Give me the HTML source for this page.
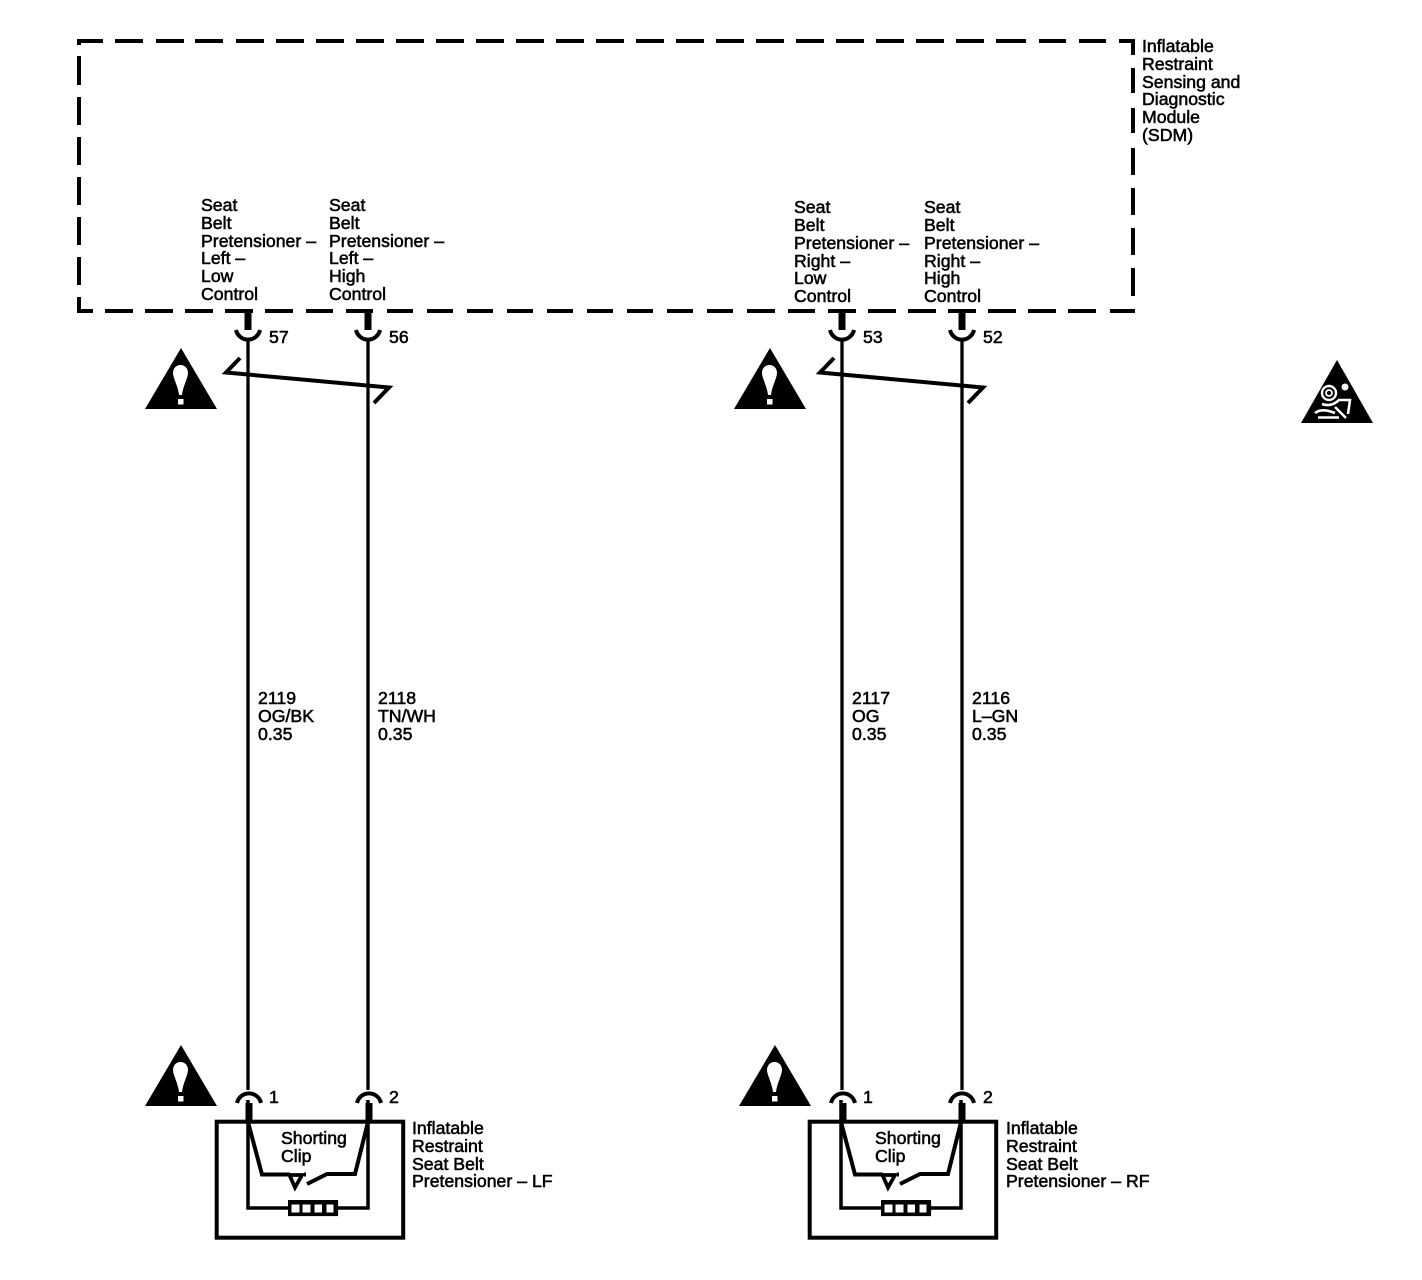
<!DOCTYPE html>
<html><head><meta charset="utf-8"><style>
html,body{margin:0;padding:0;background:#fff}
svg{display:block}
text{font-family:"Liberation Sans",sans-serif;font-size:17.7px;fill:#000;stroke:#000;stroke-width:.55px}
</style></head><body>
<svg width="1422" height="1280" viewBox="0 0 1422 1280" xmlns="http://www.w3.org/2000/svg">
<defs>
<g id="warn"><path d="M36 0L72 61H0Z" fill="#000"/><path d="M35.500 17C30.500 17 28 21 28 25C28 30 33 38 34 47H37C38 38 43 30 43 25C43 21 40.500 17 35.500 17Z" fill="#fff"/><rect x="33" y="51" width="5.500" height="5.500" fill="#fff"/></g>
<g id="top"><rect x="-3.500" y="0" width="7" height="19" fill="#000"/><path d="M-12 19A12.300 12.300 0 0 0 12 19" fill="none" stroke="#000" stroke-width="4"/></g>
<g id="bot"><path d="M-12 1103A12.300 12.300 0 0 1 12 1103" fill="none" stroke="#000" stroke-width="4"/><rect x="-3.500" y="1103" width="7" height="20" fill="#000"/></g>
<g id="pret" fill="none" stroke="#000">
<rect x="216.700" y="1121.700" width="186.500" height="116" stroke-width="4"/>
<path d="M248 1122L262 1174.500H290M304 1174.500H306M307 1184L327 1174H355L368 1122" stroke-width="4"/>
<path d="M289.500 1175H302L295 1187.500Z" stroke-width="3.800" fill="#fff"/>
<path d="M248 1100V1208H289M336 1208H368V1100" stroke-width="3.500"/>
<rect x="289.800" y="1201.800" width="46.500" height="12.500" stroke-width="3.600" fill="#000"/>
<rect x="291.500" y="1204.500" width="8" height="8" fill="#fff" stroke="none"/><rect x="302.500" y="1204.500" width="8" height="8" fill="#fff" stroke="none"/><rect x="314.500" y="1204.500" width="7.500" height="8" fill="#fff" stroke="none"/><rect x="326.500" y="1204.500" width="7" height="8" fill="#fff" stroke="none"/>
</g>
</defs>

<!-- SDM dashed box -->
<g fill="#000">
<path d="M77 39h26v4h-22v2h-4z"/>
<path d="M115 39h28v4h-28zM156 39h28v4h-28zM195 39h28v4h-28zM236 39h28v4h-28zM276 39h28v4h-28zM316 39h28v4h-28zM356 39h28v4h-28zM396 39h28v4h-28zM436 39h28v4h-28zM476 39h28v4h-28zM516 39h28v4h-28zM556 39h28v4h-28zM596 39h28v4h-28zM636 39h28v4h-28zM676 39h28v4h-28zM716 39h28v4h-28zM756 39h28v4h-28zM796 39h28v4h-28zM836 39h28v4h-28zM876 39h28v4h-28zM916 39h28v4h-28zM956 39h28v4h-28zM996 39h30v4h-30zM1039 39h27v4h-27zM1079 39h27v4h-27z"/>
<path d="M1119 39h16v16h-4v-12h-12z"/>
<path d="M77 56h4v29h-4zM77 97h4v28h-4zM77 137h4v28h-4zM77 177h4v28h-4zM77 217h4v28h-4zM77 257h4v28h-4zM77 297h4v16h-4z"/>
<path d="M1131 68h4v25h-4zM1131 108h4v25h-4zM1131 148h4v27h-4zM1131 188h4v27h-4zM1131 228h4v27h-4zM1131 268h4v28h-4z"/>
<path d="M77 309h16v4h-16zM105 309h28v4h-28zM145 309h28v4h-28zM185 309h28v4h-28zM225 309h28v4h-28zM265 309h28v4h-28zM306 309h27v4h-27zM346 309h27v4h-27zM387 309h26v4h-26zM427 309h26v4h-26zM467 309h26v4h-26zM507 309h26v4h-26zM547 309h26v4h-26zM587 309h26v4h-26zM627 309h26v4h-26zM667 309h26v4h-26zM707 309h26v4h-26zM747 309h28v4h-28zM788 309h27v4h-27zM828 309h28v4h-28zM868 309h28v4h-28zM908 309h28v4h-28zM948 309h28v4h-28zM988 309h28v4h-28zM1028 309h28v4h-28zM1068 309h28v4h-28zM1110 309h25v4h-25z"/>
</g>

<!-- wires -->
<g stroke="#000" stroke-width="3.300" fill="none">
<path d="M248 340V1090M368 340V1090M842 340V1090M962 340V1090"/>
<path d="M240 358L226 372.500L389 387.500L374 403" stroke-width="4"/>
<path d="M834 358L820 372.500L983 387.500L968 403" stroke-width="4"/>
</g>
<use href="#top" x="248" y="311"/><use href="#top" x="368" y="311"/><use href="#top" x="842" y="311"/><use href="#top" x="962" y="311"/>
<use href="#bot" x="249" y="0"/><use href="#bot" x="369" y="0"/><use href="#bot" x="843" y="0"/><use href="#bot" x="962" y="0"/>

<use href="#warn" x="145" y="348"/><use href="#warn" x="734" y="348"/>
<use href="#warn" x="145" y="1045"/><use href="#warn" x="739" y="1045"/>

<use href="#pret"/><use href="#pret" x="593"/>

<!-- airbag icon -->
<path d="M1337 360L1373 423H1301Z" fill="#000"/>
<g fill="none" stroke="#fff">
<circle cx="1329" cy="393" r="7" stroke-width="2.400"/><circle cx="1329" cy="393" r="3" stroke-width="1.800"/>
<path d="M1322 404C1328 406 1334 405 1339 400H1350L1348 414" stroke-width="2.600"/>
<path d="M1335 407L1346 418" stroke-width="2.400"/>
<path d="M1315 413C1321 408 1330 411 1335 413M1318 417.500H1339" stroke-width="2.600"/>
</g>
<circle cx="1345" cy="387" r="3.500" fill="#fff"/>

<!-- labels -->
<text x="1142" y="52">Inflatable</text><text x="1142" y="70">Restraint</text><text x="1142" y="88">Sensing and</text><text x="1142" y="105">Diagnostic</text><text x="1142" y="123">Module</text><text x="1142" y="141">(SDM)</text>

<text x="201" y="211">Seat</text><text x="201" y="229">Belt</text><text x="201" y="247">Pretensioner –</text><text x="201" y="264">Left –</text><text x="201" y="282">Low</text><text x="201" y="300">Control</text>
<text x="329" y="211">Seat</text><text x="329" y="229">Belt</text><text x="329" y="247">Pretensioner –</text><text x="329" y="264">Left –</text><text x="329" y="282">High</text><text x="329" y="300">Control</text>
<text x="794" y="213">Seat</text><text x="794" y="231">Belt</text><text x="794" y="249">Pretensioner –</text><text x="794" y="267">Right –</text><text x="794" y="284">Low</text><text x="794" y="302">Control</text>
<text x="924" y="213">Seat</text><text x="924" y="231">Belt</text><text x="924" y="249">Pretensioner –</text><text x="924" y="267">Right –</text><text x="924" y="284">High</text><text x="924" y="302">Control</text>

<text x="269" y="343">57</text><text x="389" y="343">56</text><text x="863" y="343">53</text><text x="983" y="343">52</text>

<text x="258" y="704">2119</text><text x="258" y="722">OG/BK</text><text x="258" y="740">0.35</text>
<text x="378" y="704">2118</text><text x="378" y="722">TN/WH</text><text x="378" y="740">0.35</text>
<text x="852" y="704">2117</text><text x="852" y="722">OG</text><text x="852" y="740">0.35</text>
<text x="972" y="704">2116</text><text x="972" y="722">L–GN</text><text x="972" y="740">0.35</text>

<text x="269" y="1103">1</text><text x="389" y="1103">2</text><text x="863" y="1103">1</text><text x="983" y="1103">2</text>

<text x="281" y="1144">Shorting</text><text x="281" y="1162">Clip</text>
<text x="875" y="1144">Shorting</text><text x="875" y="1162">Clip</text>

<text x="412" y="1134">Inflatable</text><text x="412" y="1152">Restraint</text><text x="412" y="1170">Seat Belt</text><text x="412" y="1187">Pretensioner – LF</text>
<text x="1006" y="1134">Inflatable</text><text x="1006" y="1152">Restraint</text><text x="1006" y="1170">Seat Belt</text><text x="1006" y="1187">Pretensioner – RF</text>
</svg>
</body></html>
